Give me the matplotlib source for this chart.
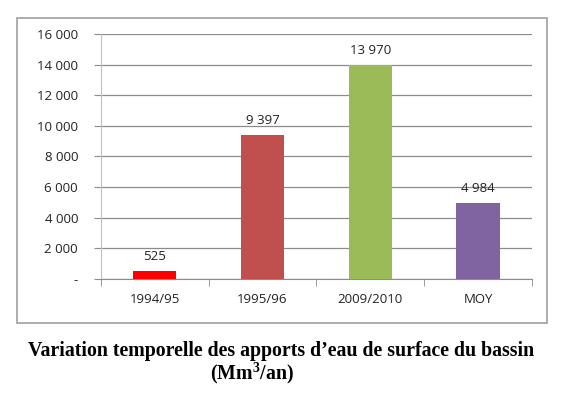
import numpy as np
import matplotlib.pyplot as plt
from matplotlib.patches import Rectangle

categories = ['1994/95', '1995/96', '2009/2010', 'MOY']
values = [525, 9397, 13970, 4984]
labels = ['525', '9 397', '13 970', '4 984']
colors = ['#FF0000', '#C0504D', '#9BBB59', '#8064A2']
yticks = [0, 2000, 4000, 6000, 8000, 10000, 12000, 14000, 16000]
ytick_labels = ['-', '2 000', '4 000', '6 000', '8 000', '10 000', '12 000', '14 000', '16 000']

plt.rcParams['mathtext.fontset'] = 'custom'
plt.rcParams['mathtext.bf'] = 'Liberation Serif:bold'
plt.rcParams['mathtext.rm'] = 'Liberation Serif:bold'

grey = '#8C8C8C'
fig = plt.figure(figsize=(5.64, 3.94), dpi=100)

# outer frame of the chart
fig.patches.append(Rectangle((0.030, 0.180), 0.940, 0.774, transform=fig.transFigure,
                             fill=False, edgecolor='#A0A0A0', linewidth=1.2))

ax = fig.add_axes([0.179, 0.292, 0.764, 0.622])
x = np.arange(len(categories))
ax.bar(x, values, width=0.4, color=colors, zorder=3)
for xi, v, lab in zip(x, values, labels):
    ax.text(xi, v + 500, lab, ha='center', va='bottom', fontsize=9.5,
            family='Open Sans', color='#222222')

ax.set_xlim(-0.5, 3.5)
ax.set_ylim(0, 16000)
ax.set_yticks(yticks)
ax.set_yticklabels(ytick_labels, family='Open Sans', fontsize=9.5, color='#222222')
ax.yaxis.grid(True, color=grey, linewidth=0.9, zorder=0)
ax.tick_params(axis='y', length=5, color=grey, pad=11.5)

ax.set_xticks(x)
ax.set_xticklabels(categories, family='Open Sans', fontsize=9.5, color='#222222')
ax.set_xticks([-0.5, 0.5, 1.5, 2.5, 3.5], minor=True)
ax.tick_params(axis='x', which='major', length=0, pad=10)
ax.tick_params(axis='x', which='minor', length=5, color=grey)

for s in ['top', 'right']:
    ax.spines[s].set_visible(False)
ax.spines['left'].set_color('#C0C0C0')
ax.spines['bottom'].set_color(grey)

fig.text(0.498, 0.108, "Variation temporelle des apports d\u2019eau de surface du bassin",
         ha='center', va='center', family='Liberation Serif', weight='bold', fontsize=14.3)
fig.text(0.447, 0.053, "(Mm$^{\\mathbf{3}}$/an)", ha='center', va='center',
         family='Liberation Serif', weight='bold', fontsize=14.3)

fig.savefig('out.png', dpi=100)
